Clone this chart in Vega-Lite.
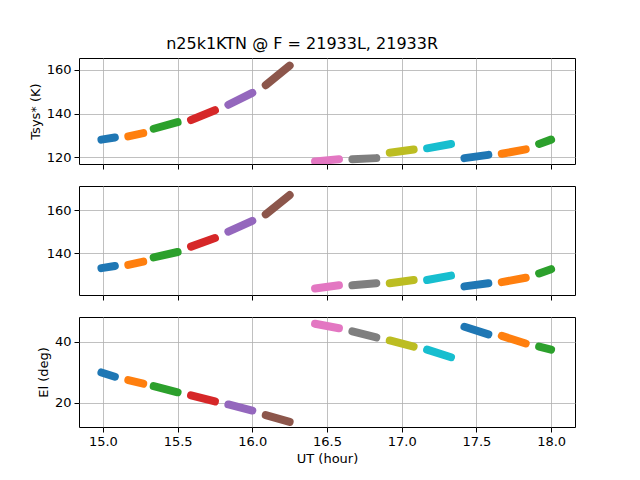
{
  "$schema": "https://vega.github.io/schema/vega-lite/v6.json",
  "background": "#ffffff",
  "padding": {"left": 28, "top": 35, "right": 5, "bottom": 5},
  "title": {"text": "n25k1KTN @ F = 21933L, 21933R", "anchor": "middle", "font": "DejaVu Sans", "fontSize": 16, "fontWeight": "normal", "color": "black", "offset": 6},
  "config": {
    "font": "DejaVu Sans",
    "view": {"stroke": "black", "strokeWidth": 1},
    "axis": {"grid": true, "gridColor": "#b0b0b0", "gridWidth": 0.8, "domain": false, "tickColor": "black", "tickSize": 5, "labelPadding": 3, "labelColor": "black", "labelFontSize": 13, "titleFontSize": 13, "titleFontWeight": "normal", "titleColor": "black", "labelFont": "DejaVu Sans", "titleFont": "DejaVu Sans"}
  },
  "spacing": 15,
  "data": {"values": [
    {"scan": 1, "ut": 14.99, "tsys": 128, "tsys2": 133, "el": 30},
    {"scan": 1, "ut": 15.08, "tsys": 129, "tsys2": 134, "el": 28.6},
    {"scan": 2, "ut": 15.17, "tsys": 129.5, "tsys2": 134.5, "el": 27.5},
    {"scan": 2, "ut": 15.27, "tsys": 131, "tsys2": 136, "el": 26.3},
    {"scan": 3, "ut": 15.34, "tsys": 133, "tsys2": 138, "el": 25.5},
    {"scan": 3, "ut": 15.5, "tsys": 136, "tsys2": 140.5, "el": 23.5},
    {"scan": 4, "ut": 15.59, "tsys": 137, "tsys2": 143, "el": 22.5},
    {"scan": 4, "ut": 15.75, "tsys": 141.5, "tsys2": 147, "el": 20.5},
    {"scan": 5, "ut": 15.84, "tsys": 144, "tsys2": 150, "el": 19.5},
    {"scan": 5, "ut": 16.0, "tsys": 149.5, "tsys2": 155, "el": 17.5},
    {"scan": 6, "ut": 16.09, "tsys": 153, "tsys2": 158, "el": 16},
    {"scan": 6, "ut": 16.25, "tsys": 162, "tsys2": 167, "el": 13.8},
    {"scan": 7, "ut": 16.42, "tsys": 118, "tsys2": 123.5, "el": 46},
    {"scan": 7, "ut": 16.58, "tsys": 119, "tsys2": 125, "el": 44.5},
    {"scan": 8, "ut": 16.67, "tsys": 119, "tsys2": 125, "el": 43.5},
    {"scan": 8, "ut": 16.83, "tsys": 119.5, "tsys2": 126, "el": 41.5},
    {"scan": 9, "ut": 16.92, "tsys": 122, "tsys2": 126, "el": 40.5},
    {"scan": 9, "ut": 17.08, "tsys": 123.5, "tsys2": 127.5, "el": 38.5},
    {"scan": 10, "ut": 17.17, "tsys": 124, "tsys2": 127.5, "el": 37.5},
    {"scan": 10, "ut": 17.33, "tsys": 126, "tsys2": 129.5, "el": 35},
    {"scan": 11, "ut": 17.42, "tsys": 119.5, "tsys2": 124.5, "el": 45},
    {"scan": 11, "ut": 17.58, "tsys": 121, "tsys2": 126, "el": 42.5},
    {"scan": 12, "ut": 17.67, "tsys": 121.5, "tsys2": 126.5, "el": 42},
    {"scan": 12, "ut": 17.83, "tsys": 123.5, "tsys2": 128.5, "el": 39.5},
    {"scan": 13, "ut": 17.92, "tsys": 126, "tsys2": 130.5, "el": 38.5},
    {"scan": 13, "ut": 18.0, "tsys": 128, "tsys2": 132.5, "el": 37.5}
  ]},
  "vconcat": [
    {
      "width": 496, "height": 106,
      "mark": {"type": "line", "strokeWidth": 8, "strokeCap": "round", "clip": true},
      "encoding": {
        "x": {"field": "ut", "type": "quantitative", "scale": {"domain": [14.84, 18.16], "nice": false}, "axis": {"labels": false, "title": null, "values": [15, 15.5, 16, 16.5, 17, 17.5, 18]}},
        "y": {"field": "tsys", "type": "quantitative", "scale": {"domain": [116.8, 165.5], "nice": false, "zero": false}, "axis": {"title": "Tsys* (K)", "values": [120, 140, 160]}},
        "color": {"field": "scan", "type": "nominal", "legend": null, "scale": {"range": ["#1f77b4", "#ff7f0e", "#2ca02c", "#d62728", "#9467bd", "#8c564b", "#e377c2", "#7f7f7f", "#bcbd22", "#17becf"]}},
        "detail": {"field": "scan"}
      }
    },
    {
      "width": 496, "height": 109,
      "mark": {"type": "line", "strokeWidth": 8, "strokeCap": "round", "clip": true},
      "encoding": {
        "x": {"field": "ut", "type": "quantitative", "scale": {"domain": [14.84, 18.16], "nice": false}, "axis": {"labels": false, "title": null, "values": [15, 15.5, 16, 16.5, 17, 17.5, 18]}},
        "y": {"field": "tsys2", "type": "quantitative", "scale": {"domain": [120.5, 171.2], "nice": false, "zero": false}, "axis": {"title": null, "values": [140, 160]}},
        "color": {"field": "scan", "type": "nominal", "legend": null, "scale": {"range": ["#1f77b4", "#ff7f0e", "#2ca02c", "#d62728", "#9467bd", "#8c564b", "#e377c2", "#7f7f7f", "#bcbd22", "#17becf"]}},
        "detail": {"field": "scan"}
      }
    },
    {
      "width": 496, "height": 110,
      "mark": {"type": "line", "strokeWidth": 8, "strokeCap": "round", "clip": true},
      "encoding": {
        "x": {"field": "ut", "type": "quantitative", "scale": {"domain": [14.84, 18.16], "nice": false}, "axis": {"title": "UT (hour)", "format": ".1f", "values": [15, 15.5, 16, 16.5, 17, 17.5, 18]}},
        "y": {"field": "el", "type": "quantitative", "scale": {"domain": [12.1, 48.2], "nice": false, "zero": false}, "axis": {"title": "El (deg)", "values": [20, 40]}},
        "color": {"field": "scan", "type": "nominal", "legend": null, "scale": {"range": ["#1f77b4", "#ff7f0e", "#2ca02c", "#d62728", "#9467bd", "#8c564b", "#e377c2", "#7f7f7f", "#bcbd22", "#17becf"]}},
        "detail": {"field": "scan"}
      }
    }
  ]
}
